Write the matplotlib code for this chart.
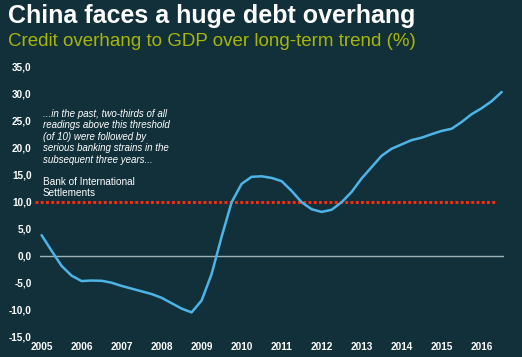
import matplotlib
matplotlib.use("Agg")
import matplotlib.pyplot as plt
import matplotlib.ticker as mticker

# quarterly readings, credit overhang to GDP vs long-term trend (%)
anos = [2005 + 0.25 * i for i in range(47)]
valores = [3.8, 0.9, -1.9, -3.7,
           -4.7, -4.6, -4.65, -5.0,
           -5.6, -6.1, -6.6, -7.1,
           -7.8, -8.8, -9.8, -10.5,
           -8.3, -3.4, 3.5, 9.9,
           13.3, 14.6, 14.7, 14.4,
           13.8, 12.0, 9.9, 8.6,
           8.1, 8.5, 9.9, 11.8,
           14.3, 16.4, 18.5, 19.8,
           20.6, 21.4, 21.85, 22.5,
           23.1, 23.5, 24.75, 26.2,
           27.3, 28.6, 30.3]
limiar = 10
anos_ticks = list(range(2005, 2017))
y_ticks = [35, 30, 25, 20, 15, 10, 5, 0, -5, -10, -15]

titulo = "China faces a huge debt overhang"
subtitulo = "Credit overhang to GDP over long-term trend (%)"
nota = ("...in the past, two-thirds of all\nreadings above this threshold\n"
        "(of 10) were followed by\nserious banking strains in the\n"
        "subsequent three years...")
fonte = "Bank of International\nSettlements"

fundo = "#12303a"
plt.rcParams['font.family'] = ['Liberation Sans', 'DejaVu Sans']

fig = plt.figure(figsize=(5.22, 3.57), dpi=100, facecolor=fundo)
ax = fig.add_axes([0.0766, 0.0569, 0.889, 0.7564])
ax.set_facecolor(fundo)

ax.plot(anos, valores, color="#4db4e8", lw=1.8, solid_capstyle="round",
        solid_joinstyle="round", zorder=3)
ax.axhline(0, color="#9fb3b5", lw=1, zorder=1)
ax.axhline(limiar, xmin=-0.01, xmax=0.985, color="#ff2a10", lw=2.1,
           dashes=(1, 0.8), clip_on=False, zorder=2)

ax.set_xlim(2004.96, 2016.56)
ax.set_ylim(-15, 35)
ax.set_xticks(anos_ticks)
ax.set_yticks(y_ticks)
ax.yaxis.set_major_formatter(mticker.FuncFormatter(lambda v, p: f"{v:.1f}".replace(".", ",")))
ax.tick_params(length=0, colors="white", labelsize=7.2)
ax.tick_params(axis="y", pad=6)
ax.tick_params(axis="x", pad=4)
for lbl in ax.get_xticklabels() + ax.get_yticklabels():
    lbl.set_fontweight("bold")
for s in ax.spines.values():
    s.set_visible(False)

ax.text(0.006, 0.845, nota, transform=ax.transAxes, color="white", fontsize=7.0,
        style="italic", va="top", ha="left", linespacing=1.2)
ax.text(0.006, 0.59, fonte, transform=ax.transAxes, color="white", fontsize=7.2,
        va="top", ha="left", linespacing=1.1)

fig.text(0.015, 0.955, titulo, color="white", fontsize=18, fontweight="bold",
         va="center", ha="left")
fig.text(0.015, 0.884, subtitulo, color="#a7b50a", fontsize=13.5,
         va="center", ha="left")

fig.savefig("out.png", dpi=100, facecolor=fundo)
